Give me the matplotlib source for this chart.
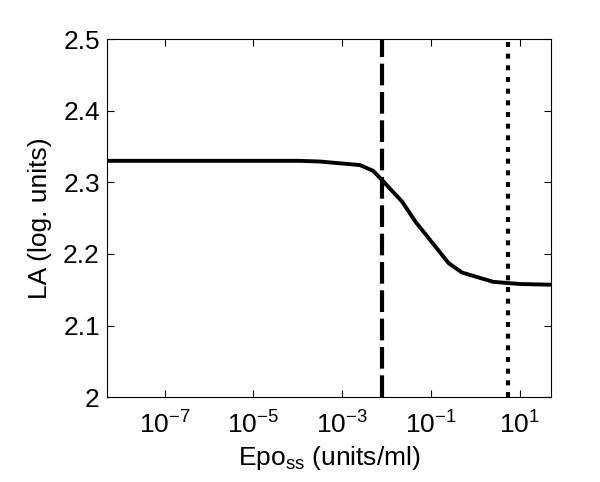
import matplotlib
matplotlib.use("Agg")
import matplotlib.pyplot as plt
import numpy as np

# Epo concentration (log10 units/ml) and light adaptation level
log_epo = [-8.3, -4.0, -3.5, -2.6, -2.3, -2.1, -1.65, -1.35, -0.6, -0.3, 0.4, 1.0, 1.7]
la = [2.330, 2.330, 2.329, 2.324, 2.316, 2.303, 2.273, 2.245, 2.187, 2.174, 2.161, 2.158, 2.157]
dashed_x = 0.0078
dotted_x = 5.3
xticks = [1e-7, 1e-5, 1e-3, 1e-1, 1e1]
yticks = [2.0, 2.1, 2.2, 2.3, 2.4, 2.5]
ytick_labels = ["2", "2.1", "2.2", "2.3", "2.4", "2.5"]

plt.rcParams['font.family'] = ['Liberation Sans', 'DejaVu Sans']
plt.rcParams['mathtext.fontset'] = 'custom'
plt.rcParams['mathtext.rm'] = 'Liberation Sans'
plt.rcParams['mathtext.it'] = 'Liberation Sans'

fig = plt.figure(figsize=(6, 4.82), dpi=100)
ax = fig.add_axes([0.178, 0.176, 0.74, 0.743])

x = 10 ** np.array(log_epo)
ax.plot(x, la, color='k', lw=2.8, solid_joinstyle='round')
ax.axvline(dashed_x, color='k', lw=3, linestyle=(0, (5.2, 1.6)))
ax.axvline(dotted_x, color='k', lw=3, linestyle=(0, (1.2, 1.6)))

ax.set_xscale('log')
ax.set_xlim(5e-9, 50)
ax.set_ylim(2.0, 2.5)
ax.set_xticks(xticks)
ax.set_xticklabels([r"$10^{%d}$" % int(np.log10(t)) for t in xticks])
ax.xaxis.set_minor_locator(matplotlib.ticker.NullLocator())
ax.set_yticks(yticks)
ax.set_yticklabels(ytick_labels)

ax.tick_params(direction='in', length=5, width=0.8, top=True, right=True, labelsize=19, pad=5)
ax.tick_params(axis='x', pad=10)
for s in ax.spines.values():
    s.set_linewidth(0.8)

ax.set_xlabel(r"Epo$_{\mathregular{ss}}$ (units/ml)", fontsize=19, labelpad=4)
ax.set_ylabel("LA (log. units)", fontsize=19, labelpad=8)

fig.savefig("out.png", dpi=100)
